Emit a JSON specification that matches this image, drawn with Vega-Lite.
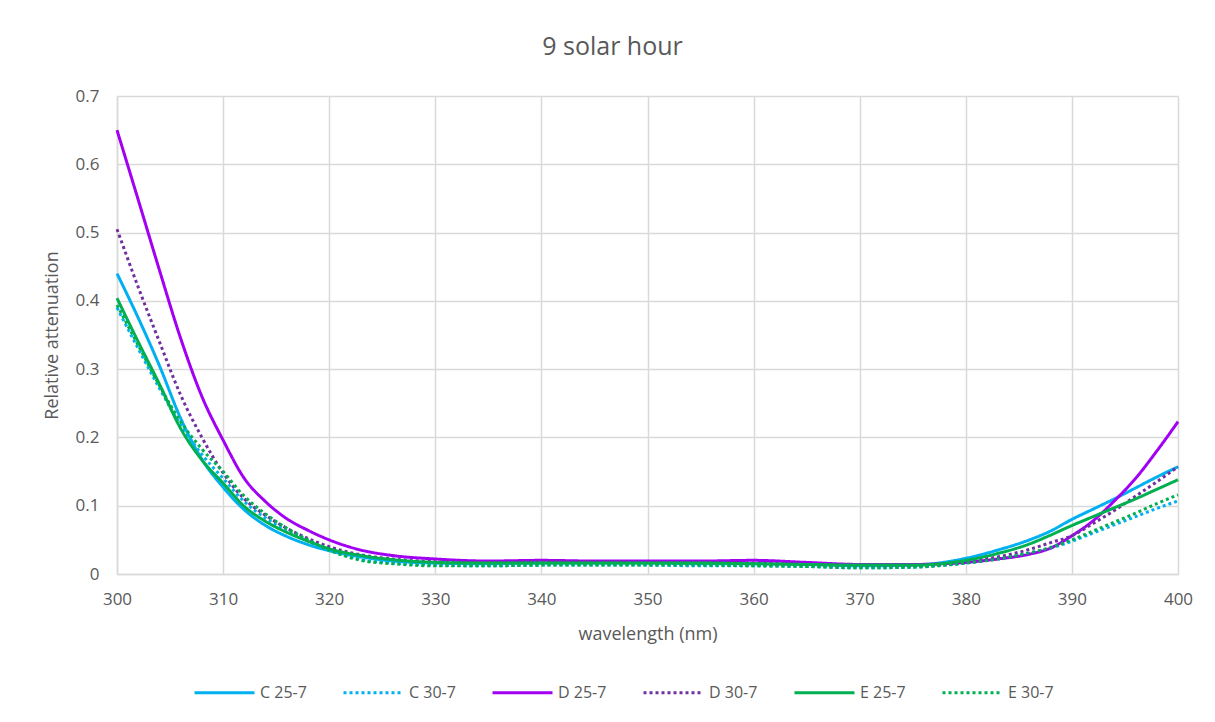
{
  "$schema": "https://vega.github.io/schema/vega-lite/v6.json",
  "width": 1061,
  "height": 478,
  "autosize": "none",
  "padding": {"left": 117, "top": 96, "right": 37, "bottom": 148},
  "background": "white",
  "title": {"text": "9 solar hour", "font": "Open Sans", "fontSize": 25, "fontWeight": "normal", "color": "#595959", "offset": 27, "dx": -35},
  "data": {"values": [
    {"s":"C 25-7","w":300,"v":0.44},{"s":"C 25-7","w":302,"v":0.375},{"s":"C 25-7","w":304,"v":0.305},{"s":"C 25-7","w":306,"v":0.228},{"s":"C 25-7","w":308,"v":0.168},{"s":"C 25-7","w":310,"v":0.127},{"s":"C 25-7","w":312,"v":0.094},{"s":"C 25-7","w":314,"v":0.071},{"s":"C 25-7","w":316,"v":0.055},{"s":"C 25-7","w":318,"v":0.043},{"s":"C 25-7","w":320,"v":0.034},{"s":"C 25-7","w":323,"v":0.025},{"s":"C 25-7","w":326,"v":0.019},{"s":"C 25-7","w":330,"v":0.016},{"s":"C 25-7","w":335,"v":0.015},{"s":"C 25-7","w":340,"v":0.016},{"s":"C 25-7","w":345,"v":0.016},{"s":"C 25-7","w":350,"v":0.016},{"s":"C 25-7","w":355,"v":0.015},{"s":"C 25-7","w":360,"v":0.015},{"s":"C 25-7","w":365,"v":0.014},{"s":"C 25-7","w":370,"v":0.012},{"s":"C 25-7","w":375,"v":0.013},{"s":"C 25-7","w":380,"v":0.023},{"s":"C 25-7","w":383,"v":0.035},{"s":"C 25-7","w":386,"v":0.05},{"s":"C 25-7","w":388,"v":0.063},{"s":"C 25-7","w":390,"v":0.08},{"s":"C 25-7","w":392,"v":0.095},{"s":"C 25-7","w":394,"v":0.11},{"s":"C 25-7","w":396,"v":0.126},{"s":"C 25-7","w":398,"v":0.142},{"s":"C 25-7","w":400,"v":0.157},
    {"s":"C 30-7","w":300,"v":0.39},{"s":"C 30-7","w":302,"v":0.33},{"s":"C 30-7","w":304,"v":0.272},{"s":"C 30-7","w":306,"v":0.218},{"s":"C 30-7","w":308,"v":0.175},{"s":"C 30-7","w":310,"v":0.14},{"s":"C 30-7","w":312,"v":0.106},{"s":"C 30-7","w":314,"v":0.082},{"s":"C 30-7","w":316,"v":0.063},{"s":"C 30-7","w":318,"v":0.048},{"s":"C 30-7","w":320,"v":0.035},{"s":"C 30-7","w":323,"v":0.021},{"s":"C 30-7","w":326,"v":0.016},{"s":"C 30-7","w":330,"v":0.013},{"s":"C 30-7","w":335,"v":0.012},{"s":"C 30-7","w":340,"v":0.013},{"s":"C 30-7","w":345,"v":0.013},{"s":"C 30-7","w":350,"v":0.013},{"s":"C 30-7","w":355,"v":0.012},{"s":"C 30-7","w":360,"v":0.012},{"s":"C 30-7","w":365,"v":0.011},{"s":"C 30-7","w":370,"v":0.009},{"s":"C 30-7","w":375,"v":0.01},{"s":"C 30-7","w":380,"v":0.016},{"s":"C 30-7","w":383,"v":0.022},{"s":"C 30-7","w":386,"v":0.03},{"s":"C 30-7","w":388,"v":0.038},{"s":"C 30-7","w":390,"v":0.048},{"s":"C 30-7","w":392,"v":0.06},{"s":"C 30-7","w":394,"v":0.072},{"s":"C 30-7","w":396,"v":0.084},{"s":"C 30-7","w":398,"v":0.096},{"s":"C 30-7","w":400,"v":0.107},
    {"s":"D 25-7","w":300,"v":0.65},{"s":"D 25-7","w":302,"v":0.548},{"s":"D 25-7","w":304,"v":0.445},{"s":"D 25-7","w":306,"v":0.345},{"s":"D 25-7","w":308,"v":0.26},{"s":"D 25-7","w":310,"v":0.196},{"s":"D 25-7","w":312,"v":0.14},{"s":"D 25-7","w":314,"v":0.106},{"s":"D 25-7","w":316,"v":0.081},{"s":"D 25-7","w":318,"v":0.064},{"s":"D 25-7","w":320,"v":0.05},{"s":"D 25-7","w":323,"v":0.035},{"s":"D 25-7","w":326,"v":0.027},{"s":"D 25-7","w":330,"v":0.022},{"s":"D 25-7","w":335,"v":0.019},{"s":"D 25-7","w":340,"v":0.02},{"s":"D 25-7","w":345,"v":0.019},{"s":"D 25-7","w":350,"v":0.019},{"s":"D 25-7","w":355,"v":0.019},{"s":"D 25-7","w":360,"v":0.02},{"s":"D 25-7","w":365,"v":0.017},{"s":"D 25-7","w":370,"v":0.014},{"s":"D 25-7","w":375,"v":0.014},{"s":"D 25-7","w":380,"v":0.017},{"s":"D 25-7","w":383,"v":0.022},{"s":"D 25-7","w":386,"v":0.029},{"s":"D 25-7","w":388,"v":0.038},{"s":"D 25-7","w":390,"v":0.056},{"s":"D 25-7","w":392,"v":0.078},{"s":"D 25-7","w":394,"v":0.107},{"s":"D 25-7","w":396,"v":0.14},{"s":"D 25-7","w":398,"v":0.18},{"s":"D 25-7","w":400,"v":0.223},
    {"s":"D 30-7","w":300,"v":0.505},{"s":"D 30-7","w":302,"v":0.42},{"s":"D 30-7","w":304,"v":0.34},{"s":"D 30-7","w":306,"v":0.262},{"s":"D 30-7","w":308,"v":0.2},{"s":"D 30-7","w":310,"v":0.148},{"s":"D 30-7","w":312,"v":0.11},{"s":"D 30-7","w":314,"v":0.086},{"s":"D 30-7","w":316,"v":0.067},{"s":"D 30-7","w":318,"v":0.052},{"s":"D 30-7","w":320,"v":0.04},{"s":"D 30-7","w":323,"v":0.028},{"s":"D 30-7","w":326,"v":0.022},{"s":"D 30-7","w":330,"v":0.018},{"s":"D 30-7","w":335,"v":0.017},{"s":"D 30-7","w":340,"v":0.018},{"s":"D 30-7","w":345,"v":0.018},{"s":"D 30-7","w":350,"v":0.017},{"s":"D 30-7","w":355,"v":0.017},{"s":"D 30-7","w":360,"v":0.016},{"s":"D 30-7","w":365,"v":0.014},{"s":"D 30-7","w":370,"v":0.012},{"s":"D 30-7","w":375,"v":0.012},{"s":"D 30-7","w":380,"v":0.018},{"s":"D 30-7","w":383,"v":0.025},{"s":"D 30-7","w":386,"v":0.036},{"s":"D 30-7","w":388,"v":0.046},{"s":"D 30-7","w":390,"v":0.056},{"s":"D 30-7","w":392,"v":0.074},{"s":"D 30-7","w":394,"v":0.093},{"s":"D 30-7","w":396,"v":0.114},{"s":"D 30-7","w":398,"v":0.135},{"s":"D 30-7","w":400,"v":0.157},
    {"s":"E 25-7","w":300,"v":0.404},{"s":"E 25-7","w":302,"v":0.34},{"s":"E 25-7","w":304,"v":0.278},{"s":"E 25-7","w":306,"v":0.213},{"s":"E 25-7","w":308,"v":0.167},{"s":"E 25-7","w":310,"v":0.133},{"s":"E 25-7","w":312,"v":0.099},{"s":"E 25-7","w":314,"v":0.077},{"s":"E 25-7","w":316,"v":0.061},{"s":"E 25-7","w":318,"v":0.048},{"s":"E 25-7","w":320,"v":0.037},{"s":"E 25-7","w":323,"v":0.027},{"s":"E 25-7","w":326,"v":0.021},{"s":"E 25-7","w":330,"v":0.017},{"s":"E 25-7","w":335,"v":0.016},{"s":"E 25-7","w":340,"v":0.016},{"s":"E 25-7","w":345,"v":0.016},{"s":"E 25-7","w":350,"v":0.016},{"s":"E 25-7","w":355,"v":0.016},{"s":"E 25-7","w":360,"v":0.015},{"s":"E 25-7","w":365,"v":0.014},{"s":"E 25-7","w":370,"v":0.013},{"s":"E 25-7","w":375,"v":0.013},{"s":"E 25-7","w":380,"v":0.02},{"s":"E 25-7","w":383,"v":0.03},{"s":"E 25-7","w":386,"v":0.044},{"s":"E 25-7","w":388,"v":0.057},{"s":"E 25-7","w":390,"v":0.071},{"s":"E 25-7","w":392,"v":0.084},{"s":"E 25-7","w":394,"v":0.097},{"s":"E 25-7","w":396,"v":0.11},{"s":"E 25-7","w":398,"v":0.124},{"s":"E 25-7","w":400,"v":0.138},
    {"s":"E 30-7","w":300,"v":0.394},{"s":"E 30-7","w":302,"v":0.335},{"s":"E 30-7","w":304,"v":0.276},{"s":"E 30-7","w":306,"v":0.223},{"s":"E 30-7","w":308,"v":0.183},{"s":"E 30-7","w":310,"v":0.15},{"s":"E 30-7","w":312,"v":0.114},{"s":"E 30-7","w":314,"v":0.088},{"s":"E 30-7","w":316,"v":0.067},{"s":"E 30-7","w":318,"v":0.05},{"s":"E 30-7","w":320,"v":0.035},{"s":"E 30-7","w":323,"v":0.02},{"s":"E 30-7","w":326,"v":0.015},{"s":"E 30-7","w":330,"v":0.012},{"s":"E 30-7","w":335,"v":0.012},{"s":"E 30-7","w":340,"v":0.013},{"s":"E 30-7","w":345,"v":0.013},{"s":"E 30-7","w":350,"v":0.013},{"s":"E 30-7","w":355,"v":0.013},{"s":"E 30-7","w":360,"v":0.012},{"s":"E 30-7","w":365,"v":0.011},{"s":"E 30-7","w":370,"v":0.009},{"s":"E 30-7","w":375,"v":0.01},{"s":"E 30-7","w":380,"v":0.016},{"s":"E 30-7","w":383,"v":0.022},{"s":"E 30-7","w":386,"v":0.031},{"s":"E 30-7","w":388,"v":0.039},{"s":"E 30-7","w":390,"v":0.05},{"s":"E 30-7","w":392,"v":0.063},{"s":"E 30-7","w":394,"v":0.076},{"s":"E 30-7","w":396,"v":0.089},{"s":"E 30-7","w":398,"v":0.103},{"s":"E 30-7","w":400,"v":0.116}
  ]},
  "mark": {"type": "line", "interpolate": "monotone", "strokeWidth": 3, "strokeCap": "butt"},
  "encoding": {
    "x": {"field": "w", "type": "quantitative", "title": "wavelength (nm)",
      "scale": {"domain": [300, 400], "nice": false, "zero": false},
      "axis": {"values": [300,310,320,330,340,350,360,370,380,390,400], "labelFlush": false, "labelPadding": 17, "titlePadding": 18}},
    "y": {"field": "v", "type": "quantitative", "title": "Relative attenuation",
      "scale": {"domain": [0, 0.7], "nice": false},
      "axis": {"values": [0,0.1,0.2,0.3,0.4,0.5,0.6,0.7], "format": ".1~f", "labelFlush": false, "labelPadding": 18, "titlePadding": 14}},
    "color": {"field": "s", "type": "nominal",
      "scale": {"domain": ["C 25-7","C 30-7","D 25-7","D 30-7","E 25-7","E 30-7"], "range": ["#00B0F0","#00B0F0","#A100F2","#7030A0","#00B050","#00B050"]},
      "legend": {"orient": "none", "legendX": 76, "legendY": 565, "direction": "horizontal", "title": null, "symbolType": "stroke", "symbolSize": 3600, "symbolStrokeWidth": 3, "labelFont": "Open Sans", "labelFontSize": 16, "labelColor": "#595959", "columnPadding": 30, "labelOffset": 4}},
    "strokeDash": {"field": "s", "type": "nominal",
      "scale": {"domain": ["C 25-7","C 30-7","D 25-7","D 30-7","E 25-7","E 30-7"], "range": [[1,0],[3,3],[1,0],[3,3],[1,0],[3,3]]},
      "legend": {"orient": "none", "legendX": 76, "legendY": 565, "direction": "horizontal", "title": null, "symbolType": "stroke", "symbolSize": 3600, "symbolStrokeWidth": 3, "labelFont": "Open Sans", "labelFontSize": 16, "labelColor": "#595959", "columnPadding": 30, "labelOffset": 4}}
  },
  "config": {
    "view": {"stroke": null},
    "axis": {"gridColor": "#D9D9D9", "gridWidth": 1.5, "domainColor": "#D9D9D9", "domainWidth": 1.5, "ticks": false,
      "labelFont": "Open Sans", "labelFontSize": 17, "labelColor": "#595959",
      "titleFont": "Open Sans", "titleFontSize": 18, "titleFontWeight": "normal", "titleColor": "#595959"}
  }
}
